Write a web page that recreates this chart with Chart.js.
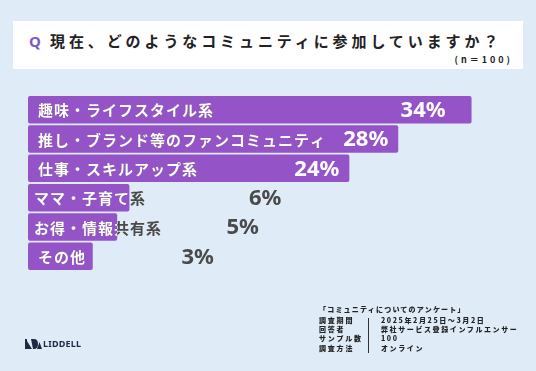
<!DOCTYPE html>
<html lang="ja">
<head>
<meta charset="utf-8">
<script src="https://cdn.jsdelivr.net/npm/chart.js@4/dist/chart.umd.min.js"></script>
<style>
  html, body { margin: 0; padding: 0; }
  body { width: 536px; height: 371px; background: #dfecf8; position: relative; overflow: hidden;
         font-family: "Noto Sans CJK JP", "Noto Sans", sans-serif; }
  #chart { position: absolute; left: 0; top: 0; }
  .qbox { position: absolute; left: 13px; top: 21px; width: 510px; height: 48px; background: #fff; }
  .qmark { position: absolute; left: 16px; top: 10px; font: bold 15px "Noto Sans", sans-serif; color: #7b5cc1; }
  .qtext { position: absolute; left: 37px; top: 9px; font-weight: bold; font-size: 15px; letter-spacing: 3.9px;
           color: #222; line-height: 22px; white-space: nowrap; }
  .qn { position: absolute; right: 10px; top: 33px; font-weight: bold; font-size: 9px; letter-spacing: 3px;
        color: #222; line-height: 12px; white-space: nowrap; }
  .survey { position: absolute; left: 319px; top: 304px; font-weight: 900; font-size: 7px; color: #222;
            letter-spacing: 1.2px; line-height: 10px; white-space: nowrap; }
  .rows { position: absolute; left: 319px; top: 316px; font-weight: 900; font-size: 7px; color: #222;
          line-height: 9.2px; white-space: nowrap; }
  .rows .k { position: absolute; left: 0; letter-spacing: 1.8px; }
  .rows .v { position: absolute; left: 62px; letter-spacing: 1.6px; }
  .divider { position: absolute; left: 368px; top: 318px; width: 1px; height: 35px; background: #333; }
  .logo { position: absolute; left: 25px; top: 338px; height: 12px; }
  .logo span { position: absolute; left: 18px; top: -1px; font: bold 9px "Noto Sans", sans-serif; color: #1e2a44;
               letter-spacing: 0.2px; }
</style>
</head>
<body>
<div class="qbox">
  <div class="qmark">Q</div>
  <div class="qtext">現在、どのようなコミュニティに参加していますか？</div>
  <div class="qn">(n＝100)</div>
</div>

<canvas id="chart" width="536" height="371"></canvas>

<div class="survey">「コミュニティについてのアンケート」</div>
<div class="rows">
  <div class="k" style="top:0">調査期間</div><div class="v" style="top:0">2025年2月25日～3月2日</div>
  <div class="k" style="top:9.2px">回答者</div><div class="v" style="top:9.2px">弊社サービス登録インフルエンサー</div>
  <div class="k" style="top:18.4px">サンプル数</div><div class="v" style="top:18.4px">100</div>
  <div class="k" style="top:27.6px">調査方法</div><div class="v" style="top:27.6px">オンライン</div>
</div>
<div class="divider"></div>

<div class="logo">
  <svg width="17" height="10" viewBox="0 0 17 10" style="position:absolute;left:0;top:1px">
    <polygon points="0,0 2,0 2,10 0,10" fill="#1e2a44"/>
    <polygon points="2,2 7,10 2,10" fill="#1e2a44"/>
    <path d="M6,0 L9,0 Q13,0 13,5 Q13,10 9,10 L8,10 Z" fill="#1e2a44"/>
    <polygon points="12,10 14.5,3 17,10" fill="#1e2a44"/>
  </svg>
  <span>LIDDELL</span>
</div>

<script>
  // --- data ---
  const categories = [
    '趣味・ライフスタイル系',
    '推し・ブランド等のファンコミュニティ',
    '仕事・スキルアップ系',
    'ママ・子育て系',
    'お得・情報共有系',
    'その他'
  ];
  const percentValues = [34, 28, 24, 6, 5, 3];

  const BAR_COLOR = '#9553c8';
  const TEXT_GREY = '#4a4a4a';
  const AXIS_START = -2.3;   // bars in the original start a little before zero

  // --- labels drawn on / next to bars ---
  const barLabels = {
    id: 'barLabels',
    afterDatasetsDraw(chart) {
      const ctx = chart.ctx;
      const meta = chart.getDatasetMeta(0);
      const area = chart.chartArea;
      meta.data.forEach((bar, i) => {
        const h = bar.height;
        const top = bar.y - h / 2;
        const barLeft = bar.base;
        const barRight = bar.x;

        ctx.save();
        ctx.textBaseline = 'middle';
        ctx.font = 'bold 15px "Noto Sans CJK JP"';
        ctx.letterSpacing = '1px';
        const catW = ctx.measureText(categories[i]).width;
        const fits = barLeft + 10 + catW < barRight;
        const tx = fits ? barLeft + 10 : barLeft + 6;
        const ty = bar.y + 1;

        // grey first, then white clipped to the bar
        ctx.fillStyle = TEXT_GREY;
        ctx.fillText(categories[i], tx, ty);
        ctx.save();
        ctx.beginPath();
        ctx.rect(barLeft, top, barRight - barLeft, h);
        ctx.clip();
        ctx.fillStyle = '#fff';
        ctx.fillText(categories[i], tx, ty);
        ctx.restore();

        // value
        const label = percentValues[i] + '%';
        ctx.font = 'bold 22px "Noto Sans"';
        ctx.letterSpacing = '0px';
        const vw = ctx.measureText(label).width;
        if (tx + catW + vw + 20 < barRight) {
          ctx.fillStyle = '#fff';
          ctx.textAlign = 'right';
          const pad = i === 0 ? 26 : 10;
          ctx.fillText(label, barRight - pad, ty);
        } else {
          ctx.fillStyle = TEXT_GREY;
          ctx.textAlign = 'left';
          ctx.fillText(label, area.left + 86 + 22.5 * percentValues[i], ty);
        }
        ctx.restore();
      });
    }
  };

  new Chart(document.getElementById('chart'), {
    type: 'bar',
    data: {
      labels: categories,
      datasets: [{
        data: percentValues,
        backgroundColor: BAR_COLOR,
        base: AXIS_START,
        barPercentage: 0.94,
        categoryPercentage: 1,
        borderRadius: 2,
        borderSkipped: false
      }]
    },
    options: {
      indexAxis: 'y',
      responsive: false,
      animation: false,
      layout: { padding: { left: 28, top: 95, bottom: 100, right: 40 } },
      plugins: { legend: { display: false }, tooltip: { enabled: false } },
      scales: {
        x: { display: false, min: AXIS_START, max: 36 },
        y: { display: false }
      }
    },
    plugins: [barLabels]
  });
</script>
</body>
</html>
